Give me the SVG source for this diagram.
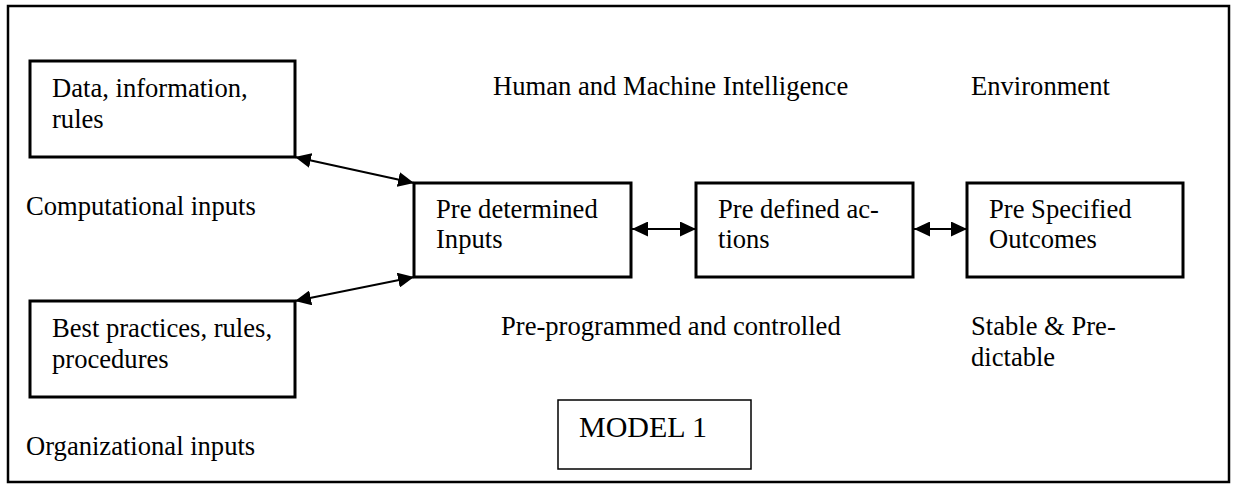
<svg xmlns="http://www.w3.org/2000/svg" width="1240" height="487" viewBox="0 0 1240 487">
<style>
text{font-family:"Liberation Serif","Times New Roman",serif;font-size:26.6px;fill:#000}
.box{fill:#fff;stroke:#000;stroke-width:3}
.conn{stroke:#000;stroke-width:2.2;fill:none;marker-start:url(#ah);marker-end:url(#ah)}
</style>
<defs>
<marker id="ah" viewBox="0 0 16 15" refX="16" refY="7.5" markerWidth="16" markerHeight="15" markerUnits="userSpaceOnUse" orient="auto-start-reverse">
<path d="M0,0 L16,7.5 L0,15 z" fill="#000"/>
</marker>
</defs>
<rect x="0" y="0" width="1240" height="487" fill="#fff"/>
<rect id="frame" x="8" y="6" width="1221" height="476" fill="none" stroke="#000" stroke-width="2.5"/>
<g id="labels">
<text x="493" y="95">Human and Machine Intelligence</text>
<text x="971" y="95">Environment</text>
<text x="26" y="215">Computational inputs</text>
<text x="501" y="335">Pre-programmed and controlled</text>
<text x="971" y="335">Stable &amp; Pre-</text>
<text x="971" y="366">dictable</text>
<text x="26" y="455">Organizational inputs</text>
</g>
<g id="n-data"><rect class="box" x="30" y="61" width="265" height="96"/><text x="52" y="97">Data, information,</text><text x="52" y="128">rules</text></g>
<g id="n-best"><rect class="box" x="30" y="301" width="265" height="96"/><text x="52" y="337">Best practices, rules,</text><text x="52" y="368">procedures</text></g>
<g id="n-inputs"><rect class="box" x="414" y="183" width="217" height="94"/><text x="436" y="218">Pre determined</text><text x="436" y="248">Inputs</text></g>
<g id="n-actions"><rect class="box" x="696" y="183" width="217" height="94"/><text x="718" y="218">Pre defined ac-</text><text x="718" y="248">tions</text></g>
<g id="n-outcomes"><rect class="box" x="967" y="183" width="216" height="94"/><text x="989" y="218">Pre Specified</text><text x="989" y="248">Outcomes</text></g>
<g id="n-model"><rect x="558" y="400" width="193" height="69" fill="#fff" stroke="#000" stroke-width="1.5"/><text x="579" y="437" style="font-size:30px">MODEL 1</text></g>
<g id="connectors">
<line class="conn" x1="295" y1="157" x2="414" y2="183"/>
<line class="conn" x1="295" y1="301" x2="414" y2="277"/>
<line class="conn" x1="632" y1="229" x2="696" y2="229"/>
<line class="conn" x1="914" y1="229" x2="967" y2="229"/>
</g>
</svg>
